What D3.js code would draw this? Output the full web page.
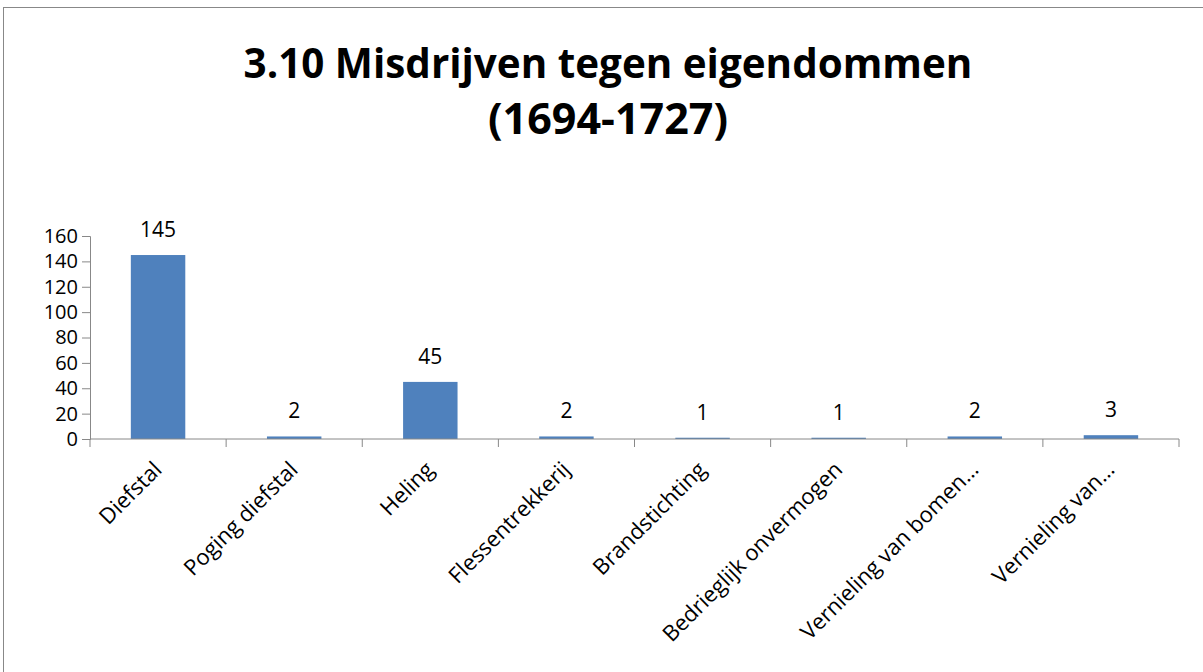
<!DOCTYPE html>
<html>
<head>
<meta charset="utf-8">
<script src="https://cdn.jsdelivr.net/npm/d3@7"></script>
<style>
  body { margin: 0; background: #fff; }
  svg { display: block; }
</style>
</head>
<body>
<div id="chart"></div>
<script>
const categories = ['Diefstal', 'Poging diefstal', 'Heling', 'Flessentrekkerij',
  'Brandstichting', 'Bedrieglijk onvermogen', 'Vernieling van bomen…', 'Vernieling van…'];
const counts = [145, 2, 45, 2, 1, 1, 2, 3];
const yTicks = [0, 20, 40, 60, 80, 100, 120, 140, 160];
const titleLines = ['3.10 Misdrijven tegen eigendommen', '(1694-1727)'];

const width = 1203;
const height = 672;
const margin = { top: 236, bottom: 233, left: 90, right: 24 };
const font = "'Open Sans', 'DejaVu Sans', sans-serif";

const svg = d3.select('#chart')
  .append('svg')
  .attr('width', width)
  .attr('height', height);

// outer chart frame (runs off right/bottom of the picture)
svg.append('rect')
  .attr('x', 3.5).attr('y', 7.5)
  .attr('width', 1240).attr('height', 720)
  .attr('fill', 'none')
  .attr('stroke', '#888');

// title
const title = svg.append('g')
  .attr('font-family', font)
  .attr('font-weight', 'bold')
  .attr('fill', '#000')
  .attr('text-anchor', 'middle');
const titleWidths = [729, 240];
titleLines.forEach((t, i) => {
  const txt = title.append('text')
    .attr('x', 608)
    .attr('y', 78 + i * 56)
    .attr('font-size', 40)
    .text(t);
  const w = txt.node().getComputedTextLength();
  txt.attr('font-size', 40 * titleWidths[i] / w);
});

const x = d3.scaleBand()
  .domain(categories)
  .range([margin.left, width - margin.right])
  .paddingInner(0.6)
  .paddingOuter(0.3);

const y = d3.scaleLinear()
  .domain([0, 160])
  .range([height - margin.bottom, margin.top]);

// bars
svg.append('g')
  .attr('fill', '#4F81BD')
  .selectAll('rect')
  .data(categories)
  .join('rect')
    .attr('x', d => x(d))
    .attr('y', (d, i) => y(counts[i]))
    .attr('width', x.bandwidth())
    .attr('height', (d, i) => y(0) - y(counts[i]));

// value labels
svg.append('g')
  .attr('font-family', font)
  .attr('font-size', 21)
  .attr('text-anchor', 'middle')
  .selectAll('text')
  .data(categories)
  .join('text')
    .attr('x', d => x(d) + x.bandwidth() / 2)
    .attr('y', (d, i) => y(counts[i]) - 18)
    .text((d, i) => counts[i]);

// y axis
const yAxis = svg.append('g')
  .attr('transform', `translate(${margin.left},0)`)
  .call(d3.axisLeft(y).tickValues(yTicks).tickSize(8).tickPadding(4));
yAxis.select('.domain').attr('stroke', '#888');
yAxis.selectAll('.tick line').attr('stroke', '#888');
yAxis.selectAll('.tick text')
  .attr('font-family', font)
  .attr('font-size', 20)
  .attr('fill', '#000');

// x axis: ticks sit on category boundaries
const boundaries = d3.range(categories.length + 1)
  .map(i => margin.left + i * x.step());
const xAxisG = svg.append('g')
  .attr('transform', `translate(0,${y(0)})`);
xAxisG.append('line')
  .attr('x1', margin.left).attr('x2', width - margin.right)
  .attr('stroke', '#888');
xAxisG.selectAll('line.tk')
  .data(boundaries)
  .join('line')
    .attr('class', 'tk')
    .attr('x1', d => d).attr('x2', d => d)
    .attr('y1', 0).attr('y2', 8)
    .attr('stroke', '#888');

xAxisG.selectAll('text')
  .data(categories)
  .join('text')
    .attr('font-family', font)
    .attr('font-size', 22)
    .attr('text-anchor', 'end')
    .attr('transform', d => `translate(${x(d) + x.bandwidth() / 2 + 5},${32}) rotate(-45)`)
    .text(d => d);
</script>
</body>
</html>
